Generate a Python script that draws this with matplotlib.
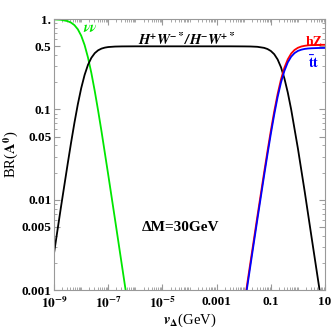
import matplotlib
matplotlib.use("Agg")
import matplotlib.pyplot as plt
from matplotlib.ticker import FixedLocator, LogLocator, NullFormatter

plt.rcParams["font.family"] = "Liberation Serif"
plt.rcParams["font.weight"] = "bold"
plt.rcParams["mathtext.fontset"] = "stix"

lx_nu = [-9.0, -8.75, -8.5, -8.375, -8.25, -8.125, -8.0, -7.875, -7.75, -7.625,
         -7.5, -7.375, -7.25, -7.0, -6.75, -6.5, -6.25]
br_nu = [0.995, 0.984, 0.950, 0.915, 0.858, 0.772, 0.656, 0.517, 0.376, 0.253,
         0.160, 0.0968, 0.057, 0.0187, 0.0060, 0.0019, 0.0006]

lx_hw = [-9.0, -8.75, -8.5, -8.375, -8.25, -8.125, -8.0, -7.875, -7.75, -7.625,
         -7.5, -7.375, -7.25, -7.125, -7.0, -6.75, -6.5, -6.0,
         -2.5, -2.0, -1.75, -1.5, -1.25, -1.125, -1.0, -0.875, -0.75, -0.625,
         -0.5, -0.375, -0.25, 0.0, 0.25, 0.5, 0.75, 1.0]
br_hw = [0.0026, 0.0082, 0.0249, 0.0427, 0.0712, 0.114, 0.172, 0.241, 0.312, 0.373,
         0.42, 0.452, 0.472, 0.484, 0.491, 0.497, 0.499, 0.5,
         0.5, 0.499, 0.498, 0.494, 0.481, 0.467, 0.444, 0.409, 0.358, 0.293,
         0.221, 0.154, 0.100, 0.0368, 0.0123, 0.0039, 0.00125, 0.0004]

lx_hz = [-2.0, -1.75, -1.5, -1.25, -1.125, -1.0, -0.875, -0.75, -0.625, -0.5,
         -0.375, -0.25, -0.125, 0.0, 0.125, 0.25, 0.375, 0.5, 0.75, 1.0]
br_hz = [0.00065, 0.00206, 0.00647, 0.0199, 0.0344, 0.0582, 0.0952, 0.148, 0.2155, 0.290,
         0.359, 0.416, 0.456, 0.482, 0.498, 0.507, 0.513, 0.516, 0.519, 0.52]
br_tt = [0.0006, 0.0019, 0.00597, 0.0184, 0.0317, 0.0537, 0.0878, 0.137, 0.199, 0.267,
         0.332, 0.384, 0.421, 0.445, 0.459, 0.468, 0.473, 0.476, 0.479, 0.48]

xticks = [1e-9, 1e-7, 1e-5, 1e-3, 1e-1, 10]
xlabels = [r"$\mathbf{10^{-9}}$", r"$\mathbf{10^{-7}}$", r"$\mathbf{10^{-5}}$", "0.001", "0.1", "10"]
yticks = [0.001, 0.005, 0.01, 0.05, 0.1, 0.5, 1.0]
ylabels = ["0.001", "0.005", "0.01", "0.05", "0.1", "0.5", "1."]

fig = plt.figure(figsize=(3.32, 3.30), dpi=100)
ax = fig.add_axes([0.163, 0.121, 0.816, 0.821])

ax.plot([10 ** v for v in lx_nu], br_nu, color="#00e600", lw=1.3)
ax.plot([10 ** v for v in lx_hw], br_hw, color="black", lw=1.3)
ax.plot([10 ** v for v in lx_hz], br_hz, color="red", lw=1.3)
ax.plot([10 ** v for v in lx_hz], br_tt, color="blue", lw=1.3)

ax.set_xscale("log")
ax.set_yscale("log")
ax.set_xlim(1e-9, 10)
ax.set_ylim(0.001, 1.0)

ax.xaxis.set_major_locator(FixedLocator(xticks))
ax.set_xticklabels(xlabels)
ax.xaxis.set_minor_locator(LogLocator(base=10, subs=range(1, 10), numticks=30))
ax.xaxis.set_minor_formatter(NullFormatter())
ax.yaxis.set_major_locator(FixedLocator(yticks))
ax.set_yticklabels(ylabels)
ax.yaxis.set_minor_locator(LogLocator(base=10, subs=range(1, 10), numticks=30))
ax.yaxis.set_minor_formatter(NullFormatter())

ax.tick_params(which="both", direction="in", top=True, right=True, color="#999999",
               labelsize=9.5, pad=2)
ax.tick_params(axis="x", which="major", pad=4)
ax.tick_params(which="major", length=4)
ax.tick_params(which="minor", length=2)
for s in ax.spines.values():
    s.set_color("#999999")

ax.set_xlabel(r"$\mathbfit{v}_{\mathbf{\Delta}}$(GeV)", fontsize=10.5, labelpad=1)
ax.set_ylabel(r"BR($\mathbf{A^0}$)", fontsize=10.5, labelpad=1)

ax.text(0.135, 0.99, r"$\mathbfit{\nu\nu}$", color="#00e600", fontsize=10,
        transform=ax.transAxes, ha="center", va="top")
ax.text(0.49, 0.955, r"$\mathbfit{H^{+}W^{-*}/H^{-}W^{+*}}$", fontsize=10.5,
        transform=ax.transAxes, ha="center", va="top")
ax.text(0.99, 0.89, "hZ", color="red", fontsize=10, fontweight="bold",
        transform=ax.transAxes, ha="right", va="bottom")
ax.text(0.98, 0.87, r"$\mathbf{\bar{t}t}$", color="blue", fontsize=10.5,
        transform=ax.transAxes, ha="right", va="top")
ax.text(0.465, 0.23, "ΔM=30GeV", fontsize=11, fontweight="bold",
        transform=ax.transAxes, ha="center", va="center")

fig.savefig("out.png", dpi=100)
